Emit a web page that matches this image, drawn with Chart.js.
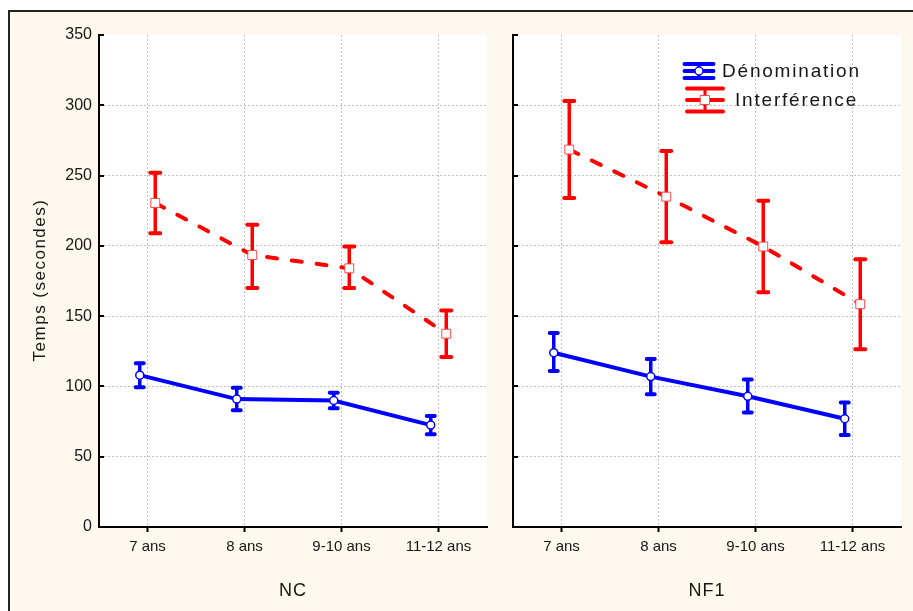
<!DOCTYPE html>
<html>
<head>
<meta charset="utf-8">
<script src="https://cdn.jsdelivr.net/npm/chart.js@4/dist/chart.umd.min.js"></script>
<style>
  html, body { margin: 0; padding: 0; background: #ffffff; }
  #frame {
    position: absolute; left: 8px; top: 10px; width: 905px; height: 601px;
    box-sizing: border-box; background: #FEF9EE;
    border-left: 2px solid #222; border-top: 2px solid #222;
  }
  canvas { position: absolute; left: 0; top: 0; }
</style>
</head>
<body>
<div id="frame"></div>
<canvas id="panelNC" width="913" height="611"></canvas>
<canvas id="panelNF1" width="913" height="611"></canvas>
<script>
// Age groups (x categories) and y ticks
const ageGroups = ['7 ans', '8 ans', '9-10 ans', '11-12 ans'];
const yMin = 0, yMax = 350, yStep = 50;

// NC group: naming (Dénomination) times, mean and error-bar bounds
const denomNC      = [108, 91, 90, 72.5];
const denomNCLow   = [99.5, 83, 84.5, 66];
const denomNCHigh  = [116.5, 99, 95.5, 79];
// NC group: interference times
const interfNC     = [230.5, 193.5, 184, 137.5];
const interfNCLow  = [209, 170, 170, 121];
const interfNCHigh = [252, 215, 199.5, 154];

// NF1 group: naming times
const denomNF1      = [124, 107, 93, 77];
const denomNF1Low   = [111, 94.5, 81.5, 65.5];
const denomNF1High  = [138, 119.5, 105, 88.5];
// NF1 group: interference times
const interfNF1     = [268.5, 235, 199.5, 158.5];
const interfNF1Low  = [234, 202.5, 167, 126.5];
const interfNF1High = [303, 267.5, 232, 190.5];

const BLUE = '#0000FF';
const RED = '#FF0000';
const TEXT = '#161616';
const FONT = '"Liberation Sans", Arial, sans-serif';

// horizontal nudge (in category units) so the two series don't overlap
const SHIFT = 0.08;

function pts(values, shift) {
  return values.map((v, i) => ({ x: i + shift, y: v }));
}

// white plotting area
const plotBackground = {
  id: 'plotBackground',
  beforeDraw(chart) {
    const { ctx, chartArea: a } = chart;
    ctx.save();
    ctx.fillStyle = '#ffffff';
    ctx.fillRect(a.left, a.top, a.right - a.left, a.bottom - a.top);
    ctx.restore();
  }
};

// vertical error bars with caps, drawn under lines and markers
const errorBars = {
  id: 'errorBars',
  beforeDatasetsDraw(chart) {
    const { ctx } = chart;
    const y = chart.scales.y;
    chart.data.datasets.forEach((ds, di) => {
      if (!ds.errLow) return;
      const meta = chart.getDatasetMeta(di);
      ctx.save();
      ctx.strokeStyle = ds.borderColor;
      ctx.lineCap = 'round';
      meta.data.forEach((pt, i) => {
        const yl = y.getPixelForValue(ds.errLow[i]);
        const yh = y.getPixelForValue(ds.errHigh[i]);
        ctx.lineWidth = 3.5;
        ctx.beginPath();
        ctx.moveTo(pt.x, yl); ctx.lineTo(pt.x, yh);
        ctx.stroke();
        ctx.lineWidth = 4;
        ctx.beginPath();
        ctx.moveTo(pt.x - ds.capHalf, yl); ctx.lineTo(pt.x + ds.capHalf, yl);
        ctx.moveTo(pt.x - ds.capHalf, yh); ctx.lineTo(pt.x + ds.capHalf, yh);
        ctx.stroke();
      });
      ctx.restore();
    });
  }
};

// short inward tick marks on the value axis
const inwardTicks = {
  id: 'inwardTicks',
  afterDraw(chart) {
    const { ctx } = chart;
    const y = chart.scales.y;
    ctx.save();
    ctx.strokeStyle = '#000';
    ctx.lineWidth = 2;
    y.ticks.forEach(t => {
      const py = Math.round(y.getPixelForValue(t.value)) ;
      ctx.beginPath();
      ctx.moveTo(y.right, py);
      ctx.lineTo(y.right + 5, py);
      ctx.stroke();
    });
    ctx.restore();
  }
};

function spacedText(ctx, text, x, y, size, spacing, align) {
  ctx.save();
  ctx.font = size + 'px ' + FONT;
  ctx.letterSpacing = spacing + 'px';
  ctx.fillStyle = TEXT;
  ctx.textAlign = align || 'center';
  ctx.textBaseline = 'middle';
  ctx.fillText(text, x, y);
  ctx.restore();
}

// panel titles (group name under each panel, value-axis title on the left)
const panelTexts = {
  id: 'panelTexts',
  afterDraw(chart, args, opts) {
    const { ctx, chartArea: a } = chart;
    spacedText(ctx, opts.group, (a.left + a.right) / 2, 591, 18, 1);
    if (opts.yTitle) {
      ctx.save();
      ctx.translate(40, 280);
      ctx.rotate(-Math.PI / 2);
      spacedText(ctx, opts.yTitle, 0, 0, 17, 1.5);
      ctx.restore();
    }
  }
};

// legend with error-bar symbols
const barLegend = {
  id: 'barLegend',
  afterDraw(chart, args, opts) {
    if (!opts.show) return;
    const { ctx } = chart;
    const ds = chart.data.datasets;
    const entries = [
      { d: ds[0], cx: 699, cy: 71, half: 14.5, gap: 7, tx: 722 },
      { d: ds[1], cx: 705, cy: 100, half: 18, gap: 11.5, tx: 735 }
    ];
    entries.forEach(e => {
      ctx.save();
      ctx.strokeStyle = e.d.borderColor;
      ctx.lineCap = 'round';
      ctx.lineWidth = 4;
      ctx.beginPath();
      [-e.gap, 0, e.gap].forEach(off => {
        ctx.moveTo(e.cx - e.half, e.cy + off);
        ctx.lineTo(e.cx + e.half, e.cy + off);
      });
      ctx.stroke();
      ctx.lineWidth = 3;
      ctx.beginPath();
      ctx.moveTo(e.cx, e.cy - e.gap); ctx.lineTo(e.cx, e.cy + e.gap);
      ctx.stroke();
      ctx.fillStyle = '#fff';
      ctx.strokeStyle = e.d.pointBorderColor;
      ctx.lineWidth = e.d.pointBorderWidth;
      ctx.beginPath();
      if (e.d.pointStyle === 'rect') {
        ctx.rect(e.cx - 4.5, e.cy - 4.5, 9, 9);
      } else {
        ctx.arc(e.cx, e.cy, e.d.pointRadius, 0, Math.PI * 2);
      }
      ctx.fill();
      ctx.stroke();
      ctx.restore();
      spacedText(ctx, e.d.label, e.tx, e.cy + 1, 19, 1.8, 'left');
    });
  }
};

function makePanel(id, group, denom, dLow, dHigh, interf, iLow, iHigh, side) {
  const left = side === 'left';
  return new Chart(document.getElementById(id), {
    type: 'line',
    data: {
      datasets: [
        {
          label: 'Dénomination',
          data: pts(denom, -SHIFT),
          errLow: dLow, errHigh: dHigh, capHalf: 4,
          borderColor: BLUE, borderWidth: 4,
          pointStyle: 'circle', pointRadius: 4,
          pointBackgroundColor: '#fff', pointBorderColor: BLUE, pointBorderWidth: 1.5
        },
        {
          label: 'Interférence',
          data: pts(interf, SHIFT),
          errLow: iLow, errHigh: iHigh, capHalf: 5,
          borderColor: RED, borderWidth: 4, borderDash: [10, 15], borderCapStyle: 'round',
          pointStyle: 'rect', pointRadius: 6.3,
          pointBackgroundColor: '#fff', pointBorderColor: '#ff4a4a', pointBorderWidth: 1
        }
      ]
    },
    options: {
      responsive: false,
      animation: false,
      events: [],
      layout: { padding: { left: 0, top: 35, bottom: 0, right: left ? 426 : 12 } },
      plugins: {
        legend: { display: false },
        tooltip: { enabled: false },
        panelTexts: { group: group, yTitle: left ? 'Temps (secondes)' : null },
        barLegend: { show: !left }
      },
      scales: {
        x: {
          type: 'linear',
          min: -0.5, max: 3.5,
          afterBuildTicks: s => { s.ticks = ageGroups.map((_, i) => ({ value: i })); },
          afterFit: s => { s.height = 84; },
          ticks: {
            callback: v => ageGroups[v],
            font: { family: FONT, size: 15 },
            color: TEXT, padding: 6, maxRotation: 0, autoSkip: false
          },
          grid: {
            color: '#c2c2c2', lineWidth: 1,
            drawTicks: true, tickLength: 5, tickColor: '#000', tickWidth: 2
          },
          border: { display: true, color: '#000', width: 2, dash: [2, 2] }
        },
        y: {
          min: yMin, max: yMax,
          afterFit: s => { s.width = left ? 99 : 513; },
          ticks: {
            stepSize: yStep, display: left,
            font: { family: FONT, size: 16 },
            color: TEXT, padding: 7
          },
          grid: {
            color: c => (c.tick && (c.tick.value === yMin || c.tick.value === yMax)) ? 'rgba(0,0,0,0)' : '#c2c2c2',
            lineWidth: 1, drawTicks: false
          },
          border: { display: true, color: '#000', width: 2, dash: [2, 2] }
        }
      }
    },
    plugins: [plotBackground, errorBars, inwardTicks, panelTexts, barLegend]
  });
}

makePanel('panelNC', 'NC', denomNC, denomNCLow, denomNCHigh, interfNC, interfNCLow, interfNCHigh, 'left');
makePanel('panelNF1', 'NF1', denomNF1, denomNF1Low, denomNF1High, interfNF1, interfNF1Low, interfNF1High, 'right');
</script>
</body>
</html>
